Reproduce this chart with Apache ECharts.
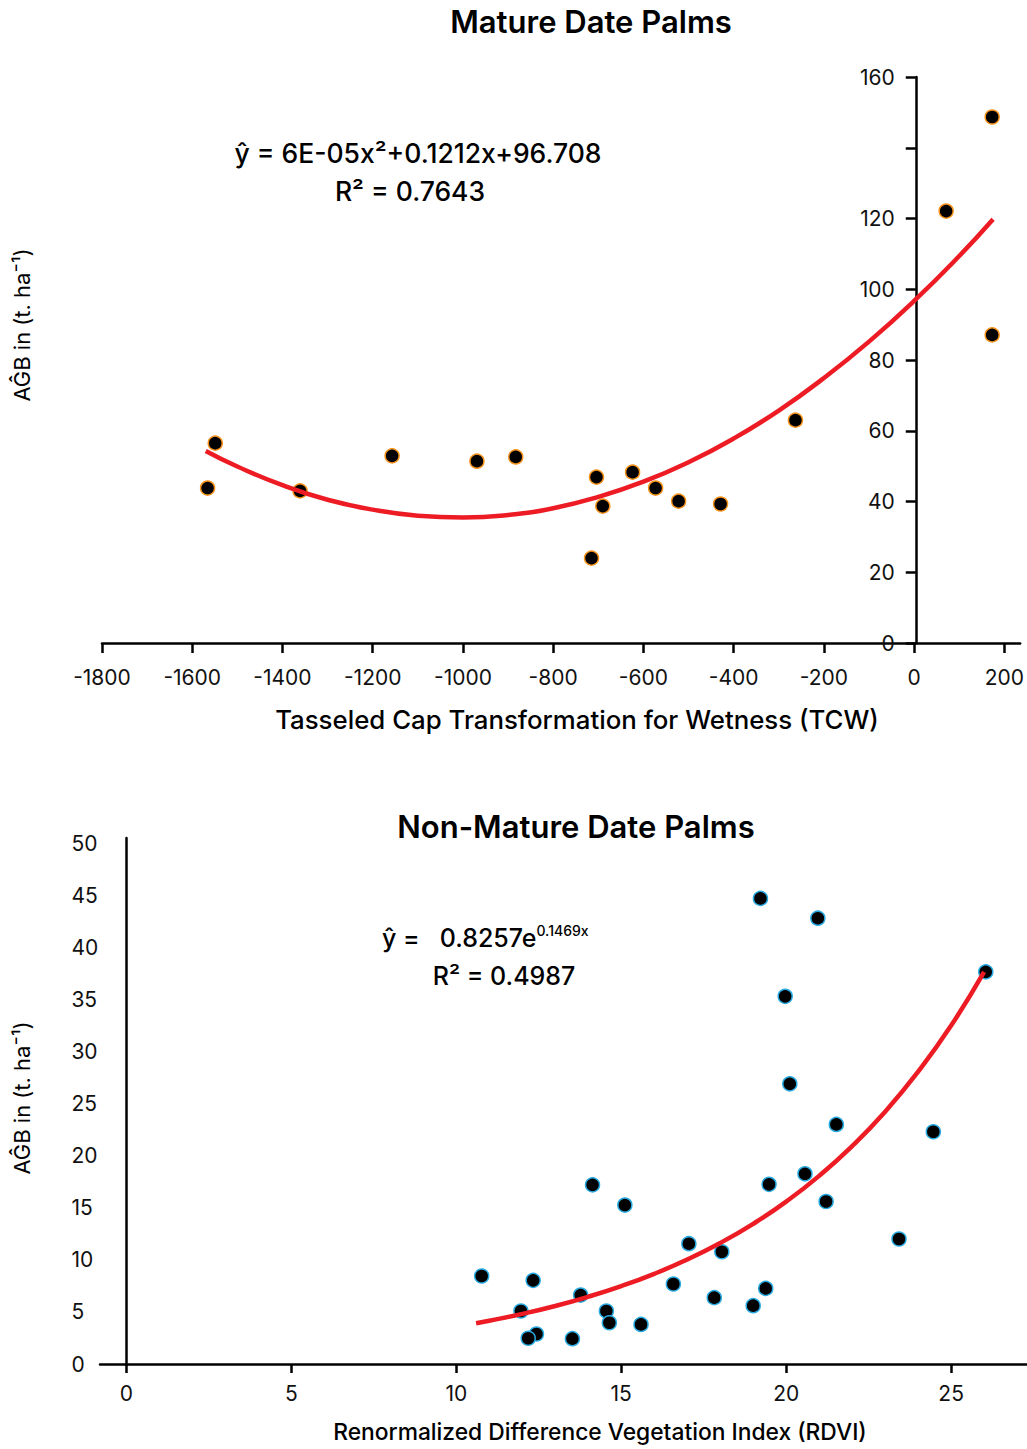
<!DOCTYPE html>
<html>
<head>
<meta charset="utf-8">
<script src="https://cdn.jsdelivr.net/npm/echarts@6/dist/echarts.min.js"></script>
<style>
html,body{margin:0;padding:0;background:#fff;}
#chart{width:1027px;height:1449px;}
</style>
</head>
<body>
<div id="chart"></div>
<script>
// ---- Mature date palms (TCW vs AGB) ----
var matureTCW = [-1566, -1549, -1361, -1157, -969, -883, -715, -704, -690, -624, -573, -522, -429, -263, 71, 173, 173];
var matureAGB = [43.8, 56.5, 43.0, 52.9, 51.4, 52.6, 24.0, 46.9, 38.7, 48.3, 43.8, 40.1, 39.3, 63.0, 122.1, 148.7, 87.1];
// fitted curve
var matureFitX = [-1570, -1500, -1400, -1300, -1200, -1100, -1000, -900, -800, -700, -600, -500, -400, -300, -200, -100, 0, 100, 175];
var matureFitY = [54.3, 49.9, 44.6, 40.5, 37.7, 36.0, 35.5, 36.2, 38.1, 41.3, 45.6, 51.1, 57.8, 65.7, 74.9, 85.2, 96.7, 109.4, 119.8];
var matureXTicks = [-1800, -1600, -1400, -1200, -1000, -800, -600, -400, -200, 0, 200];
var matureYTicks = [0, 20, 40, 60, 80, 100, 120, 140, 160];
var matureYLabels = [0, 20, 40, 60, 80, 100, 120, 160];

// ---- Non-mature date palms (RDVI vs AGB) ----
var nonMatureRDVI = [10.77, 12.33, 11.96, 12.43, 12.18, 13.52, 13.77, 14.13, 15.11, 14.55, 14.64, 15.60, 16.58, 17.05, 17.82, 18.05, 19.00, 19.38, 19.48, 19.22, 20.96, 26.05, 19.97, 20.11, 21.52, 24.46, 20.57, 21.21, 23.42];
var nonMatureAGB = [8.45, 8.03, 5.09, 2.88, 2.47, 2.43, 6.62, 17.2, 15.26, 5.09, 3.96, 3.80, 7.68, 11.55, 6.37, 10.78, 5.6, 7.26, 17.25, 44.7, 42.8, 37.65, 35.3, 26.9, 23.0, 22.3, 18.26, 15.6, 12.0];
var nonMatureFitX = [10.6, 11, 12, 13, 14, 15, 16, 17, 18, 19, 20, 21, 22, 23, 24, 25, 26];
var nonMatureFitY = [3.92, 4.16, 4.81, 5.57, 6.46, 7.48, 8.66, 10.03, 11.62, 13.46, 15.59, 18.06, 20.92, 24.22, 28.06, 32.49, 37.64];
var nonMatureXTicks = [0, 5, 10, 15, 20, 25];
var nonMatureYTicks = [0, 5, 10, 15, 20, 25, 30, 35, 40, 45, 50];

function pairs(xs, ys){ return xs.map(function(x,i){ return [x, ys[i]]; }); }
function plain(v){ return String(v); }

var FONT = 'Inter, "Noto Sans", sans-serif';
var TXT = '#111';

var chart = echarts.init(document.getElementById('chart'), null, {renderer:'svg'});

var axisLineStyle = {color:'#000', width:2.5};

// grid geometry
var g0 = {left:102, top:77, width:920, height:566, xmin:-1800, xmax:235};
var g1 = {left:100, top:838, width:927, height:526, xmin:-0.8, xmax:27.3};
// y axes sit where x = 0 (offset measured from grid left edge)
var off0 = -(0 - g0.xmin) / (g0.xmax - g0.xmin) * g0.width;
var off1 = -(0 - g1.xmin) / (g1.xmax - g1.xmin) * g1.width;

var option = {
  animation:false,
  backgroundColor:'#fff',
  textStyle:{fontFamily:FONT},
  grid:[
    {left:g0.left, top:g0.top, width:g0.width, height:g0.height},
    {left:g1.left, top:g1.top, width:g1.width, height:g1.height}
  ],
  xAxis:[
    {
      type:'value', gridIndex:0, min:g0.xmin, max:g0.xmax,
      axisLine:{show:true, onZero:false, lineStyle:axisLineStyle},
      axisTick:{show:true, length:10, lineStyle:{color:'#000', width:2.5}, customValues:matureXTicks},
      axisLabel:{show:true, customValues:matureXTicks, formatter:plain, margin:24, fontSize:21, color:TXT, fontFamily:FONT},
      splitLine:{show:false}
    },
    {
      type:'value', gridIndex:1, min:g1.xmin, max:g1.xmax,
      axisLine:{show:true, onZero:false, lineStyle:axisLineStyle},
      axisTick:{show:true, length:9, lineStyle:{color:'#000', width:2.5}, customValues:nonMatureXTicks},
      axisLabel:{show:true, customValues:nonMatureXTicks, formatter:plain, margin:19, fontSize:21, color:TXT, fontFamily:FONT},
      splitLine:{show:false}
    }
  ],
  yAxis:[
    {
      type:'value', gridIndex:0, min:0, max:160, position:'left', offset:off0,
      axisLine:{show:true, onZero:false, lineStyle:axisLineStyle},
      axisTick:{show:true, length:10, lineStyle:{color:'#000', width:2.5}, customValues:matureYTicks},
      axisLabel:{show:true, customValues:matureYLabels, formatter:plain, margin:21, fontSize:21, color:TXT, fontFamily:FONT},
      splitLine:{show:false}
    },
    {
      type:'value', gridIndex:1, min:0, max:50.5, position:'left', offset:off1,
      axisLine:{show:true, onZero:false, lineStyle:axisLineStyle},
      axisTick:{show:false},
      axisLabel:{show:true, customValues:nonMatureYTicks, formatter:plain, margin:55, align:'left', fontSize:21, color:TXT, fontFamily:FONT},
      splitLine:{show:false}
    }
  ],
  series:[
    {
      type:'scatter', xAxisIndex:0, yAxisIndex:0, z:2,
      data:pairs(matureTCW, matureAGB), symbolSize:14,
      itemStyle:{color:'#000', borderColor:'#F7941D', borderWidth:1.5, opacity:1}
    },
    {
      type:'line', xAxisIndex:0, yAxisIndex:0, z:3,
      data:pairs(matureFitX, matureFitY), smooth:true, showSymbol:false, symbol:'none',
      lineStyle:{color:'#ED1C24', width:4.5}
    },
    {
      type:'scatter', xAxisIndex:1, yAxisIndex:1, z:2,
      data:pairs(nonMatureRDVI, nonMatureAGB), symbolSize:14,
      itemStyle:{color:'#000', borderColor:'#29ABE2', borderWidth:1.5, opacity:1}
    },
    {
      type:'line', xAxisIndex:1, yAxisIndex:1, z:3,
      data:pairs(nonMatureFitX, nonMatureFitY), smooth:true, showSymbol:false, symbol:'none',
      lineStyle:{color:'#ED1C24', width:4.5}
    }
  ],
  graphic:[
    {type:'text', x:591, y:21, style:{text:'Mature Date Palms', font:'600 31px '+FONT, fill:'#000', align:'center', verticalAlign:'middle'}},
    {type:'text', x:576, y:826, style:{text:'Non-Mature Date Palms', font:'600 31px '+FONT, fill:'#000', align:'center', verticalAlign:'middle'}},
    {type:'text', x:418, y:153, style:{text:'\u0177 = 6E-05x\u00B2+0.1212x+96.708', font:'500 26.5px '+FONT, fill:'#000', align:'center', verticalAlign:'middle'}},
    {type:'text', x:410, y:191, style:{text:'R\u00B2 = 0.7643', font:'500 26.5px '+FONT, fill:'#000', align:'center', verticalAlign:'middle'}},
    {type:'text', x:382, y:920, style:{
      text:'{a|\u0177 =   0.8257e}{s|0.1469x}',
      rich:{
        a:{fontFamily:FONT, fontWeight:500, fontSize:25, lineHeight:30, fill:'#000', color:'#000', verticalAlign:'bottom'},
        s:{fontFamily:FONT, fontWeight:500, fontSize:14, lineHeight:30, fill:'#000', color:'#000', verticalAlign:'top', padding:[3,0,0,0]}
      }
    }},
    {type:'text', x:504, y:976, style:{text:'R\u00B2 = 0.4987', font:'500 25px '+FONT, fill:'#000', align:'center', verticalAlign:'middle'}},
    {type:'text', x:577, y:719, style:{text:'Tasseled Cap Transformation for Wetness (TCW)', font:'500 25.8px '+FONT, fill:'#000', align:'center', verticalAlign:'middle'}},
    {type:'text', x:600, y:1431, style:{text:'Renormalized Difference Vegetation Index (RDVI)', font:'500 22.8px '+FONT, fill:'#000', align:'center', verticalAlign:'middle'}},
    {type:'text', x:22, y:325, rotation:Math.PI/2, style:{text:'A\u011CB in (t. ha\u207B\u00B9)', font:'400 22px '+FONT, fill:'#000', align:'center', verticalAlign:'middle'}},
    {type:'text', x:22, y:1098, rotation:Math.PI/2, style:{text:'A\u011CB in (t. ha\u207B\u00B9)', font:'400 22px '+FONT, fill:'#000', align:'center', verticalAlign:'middle'}}
  ]
};
chart.setOption(option);
</script>
</body>
</html>
